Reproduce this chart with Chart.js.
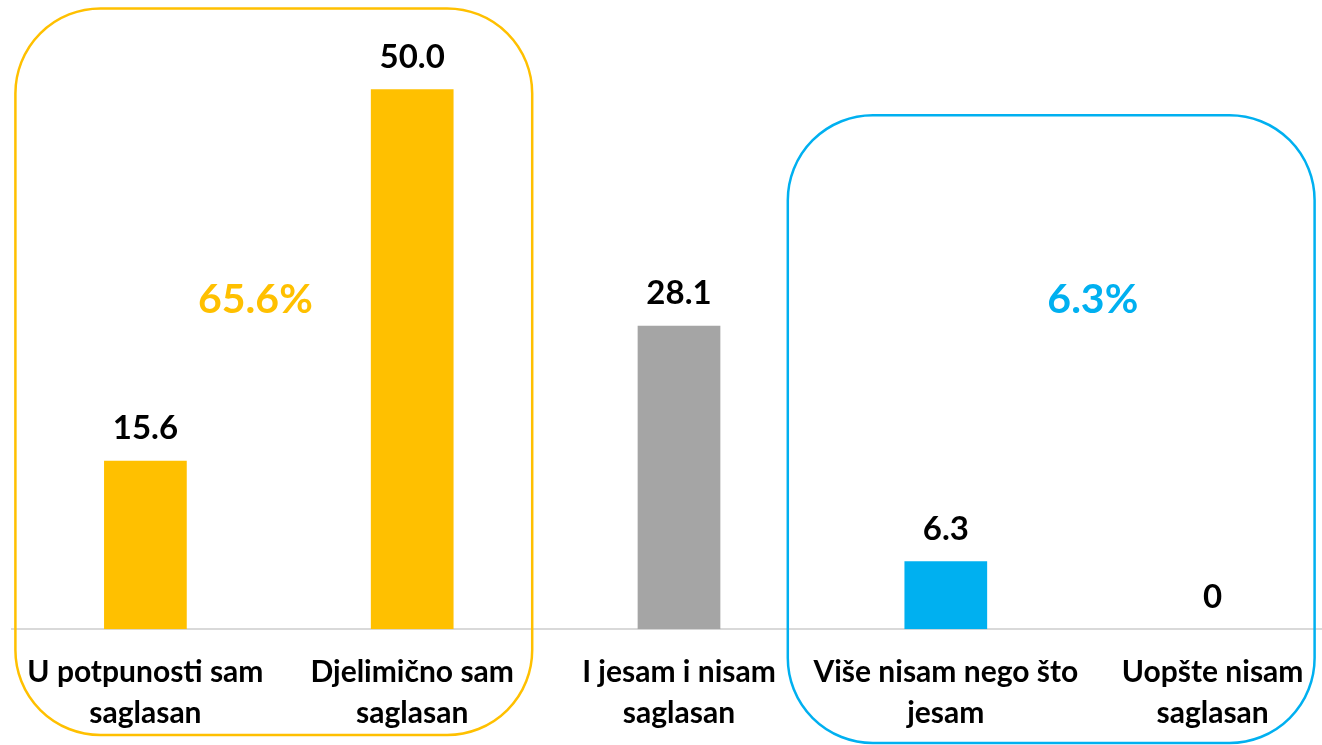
<!DOCTYPE html>
<html>
<head>
<meta charset="utf-8">
<script src="https://cdn.jsdelivr.net/npm/chart.js@4.4.1/dist/chart.umd.min.js"></script>
<style>
  html, body { margin: 0; padding: 0; background: #fff; overflow: hidden; }
  #wrap { width: 1346px; height: 745px; }
</style>
</head>
<body>
<div id="wrap"><canvas id="c"></canvas></div>
<script>
// data
const categories = [
  ['U potpunosti sam', 'saglasan'],
  ['Djelimično sam', 'saglasan'],
  ['I jesam i nisam', 'saglasan'],
  ['Više nisam nego što', 'jesam'],
  ['Uopšte nisam', 'saglasan']
];
const values = [15.6, 50.0, 28.1, 6.3, 0];
const valueLabels = ['15.6', '50.0', '28.1', '6.3', '0'];
const barColors = ['#FFC000', '#FFC000', '#A5A5A5', '#00B0F0', '#00B0F0'];
const groupTotals = ['65.6%', '6.3%'];

const FONT = 'Lato, "Open Sans", sans-serif';

// value labels above bars
const valueLabelPlugin = {
  id: 'valueLabels',
  afterDatasetsDraw(chart) {
    const ctx = chart.ctx;
    const meta = chart.getDatasetMeta(0);
    ctx.save();
    ctx.font = 'bold 33px ' + FONT;
    ctx.fillStyle = '#000';
    ctx.textAlign = 'center';
    ctx.textBaseline = 'middle';
    meta.data.forEach((bar, i) => {
      ctx.fillText(valueLabels[i], bar.x, bar.y - 32);
    });
    ctx.restore();
  }
};

// rounded group boxes + group totals
function roundRect(ctx, x1, y1, x2, y2, r) {
  ctx.beginPath();
  ctx.moveTo(x1 + r, y1);
  ctx.lineTo(x2 - r, y1);
  ctx.arcTo(x2, y1, x2, y1 + r, r);
  ctx.lineTo(x2, y2 - r);
  ctx.arcTo(x2, y2, x2 - r, y2, r);
  ctx.lineTo(x1 + r, y2);
  ctx.arcTo(x1, y2, x1, y2 - r, r);
  ctx.lineTo(x1, y1 + r);
  ctx.arcTo(x1, y1, x1 + r, y1, r);
  ctx.closePath();
}

const groupPlugin = {
  id: 'groups',
  afterDraw(chart) {
    const ctx = chart.ctx;
    const x = chart.scales.x;
    const y = chart.scales.y;
    ctx.save();
    ctx.lineWidth = 2.5;

    // yellow group: first two bars
    ctx.strokeStyle = '#FFC000';
    roundRect(ctx, x.getPixelForValue(0) - 130, y.getPixelForValue(57.5),
      x.getPixelForValue(1) + 120, chart.height - 10, 85);
    ctx.stroke();

    // blue group: last two bars
    ctx.strokeStyle = '#00B0F0';
    roundRect(ctx, x.getPixelForValue(3) - 158, y.getPixelForValue(47.6),
      x.getPixelForValue(4) + 102, chart.height - 2, 85);
    ctx.stroke();

    ctx.font = 'bold 41px ' + FONT;
    ctx.textAlign = 'center';
    ctx.textBaseline = 'middle';
    ctx.fillStyle = '#FFC000';
    ctx.fillText(groupTotals[0], x.getPixelForValue(0) + 110, y.getPixelForValue(30.5));
    ctx.fillStyle = '#00B0F0';
    ctx.fillText(groupTotals[1], x.getPixelForValue(3) + 147, y.getPixelForValue(30.5));
    ctx.restore();
  }
};

new Chart(document.getElementById('c'), {
  type: 'bar',
  data: {
    labels: categories,
    datasets: [{
      data: values,
      backgroundColor: barColors,
      borderWidth: 0,
      barPercentage: 0.62,
      categoryPercentage: 0.5
    }]
  },
  options: {
    responsive: true,
    maintainAspectRatio: false,
    animation: false,
    layout: { padding: { left: 12, right: 0, top: 3, bottom: -3 } },
    plugins: {
      legend: { display: false },
      tooltip: { enabled: false }
    },
    scales: {
      x: {
        grid: { display: false },
        border: { display: true, color: '#D9D9D9', width: 2 },
        ticks: {
          color: '#000',
          padding: 14,
          maxRotation: 0,
          autoSkip: false,
          font: { family: FONT, size: 30, weight: 'bold', lineHeight: 1.38 }
        }
      },
      y: {
        display: false,
        min: 0,
        max: 58
      }
    }
  },
  plugins: [valueLabelPlugin, groupPlugin]
});
</script>
</body>
</html>
